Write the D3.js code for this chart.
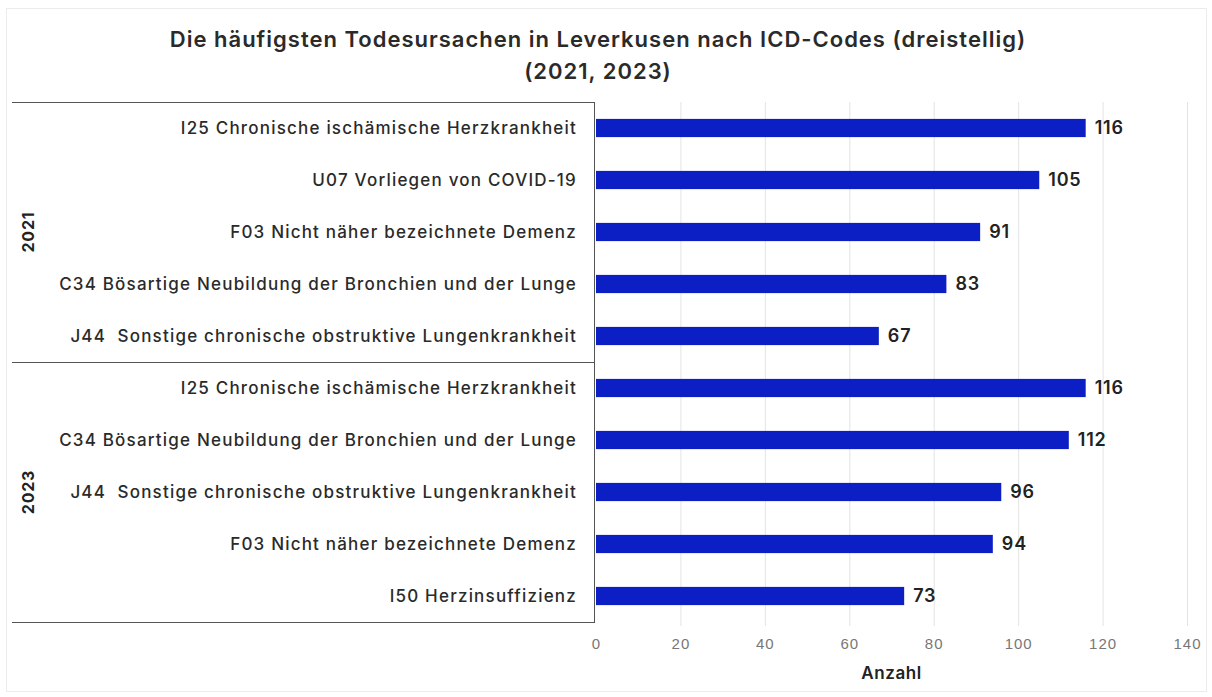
<!DOCTYPE html>
<html>
<head>
<meta charset="utf-8">
<script src="https://cdn.jsdelivr.net/npm/d3@7"></script>
<style>
    body { margin: 0; background: #fff; }
    svg { font-family: Inter, "Noto Sans", sans-serif; }
    .grid line { stroke: #e3e3e3; }
    .axis-x text { fill: #777; font-weight: 300; font-size: 15px; letter-spacing: 1px; }
    .cat { white-space: pre; }
</style>
</head>
<body>
<svg></svg>
<script>
// data
const years = ['2021', '2023'];
const causes2021 = [
    'I25 Chronische ischämische Herzkrankheit',
    'U07 Vorliegen von COVID-19',
    'F03 Nicht näher bezeichnete Demenz',
    'C34 Bösartige Neubildung der Bronchien und der Lunge',
    'J44  Sonstige chronische obstruktive Lungenkrankheit'
];
const values2021 = [116, 105, 91, 83, 67];
const causes2023 = [
    'I25 Chronische ischämische Herzkrankheit',
    'C34 Bösartige Neubildung der Bronchien und der Lunge',
    'J44  Sonstige chronische obstruktive Lungenkrankheit',
    'F03 Nicht näher bezeichnete Demenz',
    'I50 Herzinsuffizienz'
];
const values2023 = [116, 112, 96, 94, 73];
const xTicks = [0, 20, 40, 60, 80, 100, 120, 140];

let width = 1212;
let height = 697;

let rows = [];
causes2021.forEach((c, i) => rows.push({ year: '2021', cause: c, value: values2021[i], key: '2021|' + c }));
causes2023.forEach((c, i) => rows.push({ year: '2023', cause: c, value: values2023[i], key: '2023|' + c }));

let svg = d3.select('svg')
            .attr('width', width)
            .attr('height', height);

// faint outer frame
svg.append('rect')
    .attr('x', 6.5).attr('y', 8.5)
    .attr('width', 1200).attr('height', 683)
    .attr('fill', 'none')
    .attr('stroke', '#ececec');

let boxLeft = 12;
let plotLeft = 594;
let plotTop = 102;
let plotBottom = 622;

let xScale = d3.scaleLinear().domain([0, 140]).range([plotLeft + 2, 1187]);
let yScale = d3.scaleBand()
            .domain(rows.map(d => d.key))
            .range([plotTop, plotBottom])
            .paddingInner(0.65)
            .paddingOuter(0.325);

// grid lines
svg.append('g')
    .attr('class', 'grid')
    .selectAll('line')
    .data(xTicks.slice(1))
    .join('line')
    .attr('x1', d => xScale(d) + 0.5)
    .attr('x2', d => xScale(d) + 0.5)
    .attr('y1', plotTop)
    .attr('y2', plotBottom + 4);

// x axis (labels only)
let xAxis = d3.axisBottom(xScale)
            .tickValues(xTicks)
            .tickSize(0)
            .tickPadding(0);
let xg = svg.append('g')
    .attr('class', 'axis-x')
    .attr('transform', `translate(0, ${plotBottom + 16})`)
    .call(xAxis);
xg.select('.domain').remove();

svg.append('text')
    .attr('x', (xScale(0) + xScale(140)) / 2)
    .attr('y', 679)
    .attr('text-anchor', 'middle')
    .attr('font-size', 17)
    .attr('font-weight', 600)
    .attr('letter-spacing', 0.6)
    .attr('fill', '#222')
    .text('Anzahl');

// bars
svg.append('g')
    .selectAll('rect')
    .data(rows)
    .join('rect')
    .attr('x', xScale(0))
    .attr('y', d => yScale(d.key))
    .attr('width', d => xScale(d.value) - xScale(0))
    .attr('height', yScale.bandwidth())
    .attr('fill', '#0b1fc4');

// value labels
svg.append('g')
    .selectAll('text')
    .data(rows)
    .join('text')
    .attr('x', d => xScale(d.value) + 9)
    .attr('y', d => yScale(d.key) + yScale.bandwidth() / 2)
    .attr('dy', '0.36em')
    .attr('font-size', 18)
    .attr('font-weight', 600)
    .attr('letter-spacing', 0.8)
    .attr('fill', '#222')
    .text(d => d.value);

// category labels
svg.append('g')
    .selectAll('text')
    .data(rows)
    .join('text')
    .attr('class', 'cat')
    .attr('x', plotLeft - 17)
    .attr('y', d => yScale(d.key) + yScale.bandwidth() / 2)
    .attr('dy', '0.36em')
    .attr('text-anchor', 'end')
    .attr('font-size', 17)
    .attr('font-weight', 500)
    .attr('letter-spacing', 1.2)
    .attr('fill', '#2a2a2a')
    .text(d => d.cause);

// group boxes
let step = yScale.step();
years.forEach((y, i) => {
    let groupRows = rows.filter(d => d.year === y);
    let top = yScale(groupRows[0].key) - yScale.paddingOuter() * step;
    let bottom = top + groupRows.length * step;
    svg.append('line')
        .attr('x1', boxLeft).attr('x2', plotLeft)
        .attr('y1', top + 0.5).attr('y2', top + 0.5)
        .attr('stroke', '#555');
    if (i === years.length - 1) {
        svg.append('line')
            .attr('x1', boxLeft).attr('x2', plotLeft)
            .attr('y1', bottom + 0.5).attr('y2', bottom + 0.5)
            .attr('stroke', '#555');
    }
    svg.append('text')
        .attr('transform', `translate(34, ${(top + bottom) / 2}) rotate(-90)`)
        .attr('text-anchor', 'middle')
        .attr('font-size', 16)
        .attr('font-weight', 700)
        .attr('letter-spacing', 0.8)
        .attr('fill', '#222')
        .text(y);
});
svg.append('line')
    .attr('x1', plotLeft + 0.5).attr('x2', plotLeft + 0.5)
    .attr('y1', plotTop).attr('y2', plotBottom + 1)
    .attr('stroke', '#555');

// title
let title = svg.append('text')
    .attr('text-anchor', 'middle')
    .attr('font-size', 22)
    .attr('font-weight', 600)
    .attr('letter-spacing', 1)
    .attr('fill', '#2a2a2a');
title.append('tspan').attr('x', 598).attr('y', 47)
    .text('Die häufigsten Todesursachen in Leverkusen nach ICD-Codes (dreistellig)');
title.append('tspan').attr('x', 598).attr('y', 79)
    .text('(2021, 2023)');
</script>
</body>
</html>
